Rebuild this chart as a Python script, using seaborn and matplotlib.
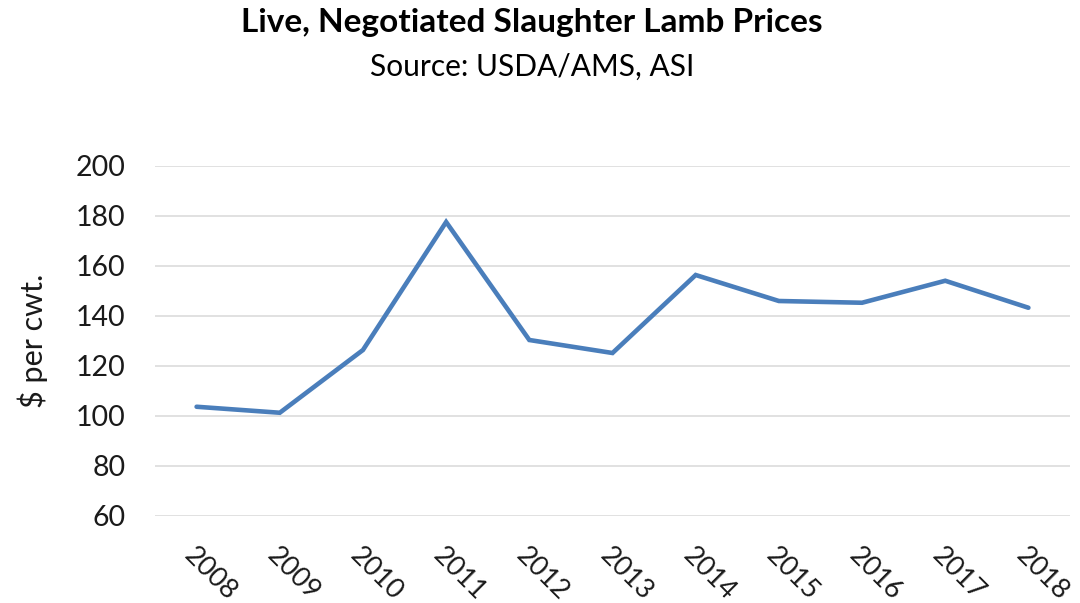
import numpy as np
import pandas as pd
import seaborn as sns
import matplotlib.pyplot as plt
from matplotlib.transforms import ScaledTranslation

# Values ($ per cwt.)
years = ["2008", "2009", "2010", "2011", "2012", "2013",
         "2014", "2015", "2016", "2017", "2018"]
prices = [103.7, 101.3, 126.4, 177.6, 130.4, 125.2,
          156.4, 146.0, 145.3, 154.1, 143.3]
yticks = [60, 80, 100, 120, 140, 160, 180, 200]

df = pd.DataFrame({"year": years, "price": prices})
df["pos"] = np.arange(len(df))

sns.set_theme(style="white")
plt.rcParams['font.family'] = ['Lato', 'DejaVu Sans']

fig = plt.figure(figsize=(10.8, 6.03), dpi=100)
ax = fig.add_axes([155 / 1080, 1 - 516 / 603, 915 / 1080, 350 / 603])

sns.lineplot(data=df, x="pos", y="price", ax=ax, color="#4A7EBB",
             linewidth=3.3, solid_joinstyle="miter")

ax.set_xlim(-0.5, len(df) - 0.5)
ax.set_ylim(60, 200)
ax.set_yticks(yticks)
ax.yaxis.grid(True, color="#D9D9D9", linewidth=1.1)
ax.set_axisbelow(True)
for s in ax.spines.values():
    s.set_visible(False)

ax.set_xticks(df["pos"])
ax.set_xticklabels(df["year"], rotation=-45, ha="left", va="top",
                   rotation_mode="anchor", fontsize=19.5, color="#1a1a1a")
shift = ScaledTranslation(5 / 100, 0, fig.dpi_scale_trans)
for lbl in ax.get_xticklabels():
    lbl.set_transform(lbl.get_transform() + shift)
ax.tick_params(axis="x", length=0, pad=19)
ax.tick_params(axis="y", length=0, pad=21, labelsize=20.5, labelcolor="#1a1a1a")
ax.set_xlabel("")
ax.set_ylabel("$ per cwt.", fontsize=22, color="#1a1a1a", labelpad=20)

fig.text(0.492, 0.962, "Live, Negotiated Slaughter Lamb Prices", ha="center",
         va="center", fontsize=24, fontweight="bold", color="#000000")
fig.text(0.493, 0.889, "Source: USDA/AMS, ASI", ha="center", va="center",
         fontsize=21.5, color="#000000")

fig.savefig("out.png", dpi=100)
